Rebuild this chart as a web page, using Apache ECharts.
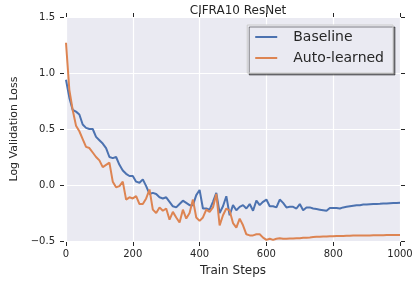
<!DOCTYPE html>
<html>
<head>
<meta charset="utf-8">
<script src="https://cdn.jsdelivr.net/npm/echarts@6/dist/echarts.min.js"></script>
<style>html,body{margin:0;padding:0;background:#fff;}#c{width:418px;height:283px;}</style>
</head>
<body>
<div id="c"></div>
<script>
const title = "CIFRA10 ResNet";
const xLabel = "Train Steps";
const yLabel = "Log Validation Loss";
const seriesNames = ["Baseline", "Auto-learned"];
const xTicks = [0, 200, 400, 600, 800, 1000];
const yTicks = [-0.5, 0.0, 0.5, 1.0, 1.5];
const steps = [0,10,20,30,40,50,60,70,80,90,100,110,120,130,140,150,160,170,180,190,200,
  210,220,230,240,250,260,270,280,290,300,310,320,330,340,350,360,370,380,390,400,
  410,420,430,440,450,460,470,480,490,500,510,520,530,540,550,560,570,580,590,600,
  610,620,630,640,650,660,670,680,690,700,710,720,730,740,750,760,770,780,790,800,
  810,820,830,840,850,860,870,880,890,900,910,920,930,940,950,960,970,980,990,1000];
const baseline = [0.94,0.78,0.67,0.655,0.63,0.54,0.51,0.50,0.50,0.43,0.40,
  0.37,0.33,0.25,0.24,0.25,0.18,0.13,0.10,0.08,0.08,
  0.03,0.02,0.05,-0.01,-0.08,-0.07,-0.08,-0.11,-0.12,-0.11,
  -0.15,-0.19,-0.20,-0.17,-0.14,-0.16,-0.18,-0.18,-0.09,-0.045,
  -0.21,-0.21,-0.22,-0.15,-0.07,-0.25,-0.19,-0.10,-0.27,-0.18,
  -0.225,-0.195,-0.18,-0.21,-0.17,-0.23,-0.14,-0.18,-0.15,-0.13,
  -0.19,-0.19,-0.20,-0.13,-0.16,-0.20,-0.195,-0.195,-0.21,-0.17,
  -0.225,-0.20,-0.20,-0.21,-0.215,-0.22,-0.225,-0.23,-0.205,-0.205,
  -0.205,-0.21,-0.20,-0.195,-0.19,-0.185,-0.18,-0.18,-0.175,-0.175,
  -0.172,-0.17,-0.17,-0.168,-0.165,-0.165,-0.162,-0.16,-0.16,-0.158];
const autoLearned = [1.27,0.85,0.67,0.53,0.48,0.41,0.34,0.33,0.29,0.25,0.22,
  0.16,0.18,0.20,0.03,-0.02,-0.01,0.03,-0.13,-0.11,-0.12,
  -0.10,-0.17,-0.17,-0.12,-0.04,-0.22,-0.25,-0.20,-0.23,-0.21,
  -0.31,-0.24,-0.29,-0.335,-0.22,-0.30,-0.25,-0.13,-0.29,-0.32,
  -0.29,-0.22,-0.24,-0.20,-0.08,-0.36,-0.27,-0.21,-0.23,-0.34,
  -0.38,-0.30,-0.36,-0.44,-0.45,-0.45,-0.44,-0.44,-0.47,-0.49,
  -0.48,-0.49,-0.48,-0.475,-0.48,-0.48,-0.478,-0.477,-0.475,-0.475,
  -0.472,-0.47,-0.468,-0.465,-0.462,-0.462,-0.46,-0.46,-0.458,-0.458,
  -0.456,-0.455,-0.455,-0.454,-0.453,-0.452,-0.452,-0.451,-0.45,-0.45,
  -0.45,-0.449,-0.449,-0.448,-0.448,-0.447,-0.447,-0.446,-0.446,-0.446];

const colors = ["#4c72b0", "#dd8452"];
const font = "DejaVu Sans";
const txt = "#262626";
const pair = (xs, ys) => xs.map((x, i) => [x, ys[i]]);

const chart = echarts.init(document.getElementById('c'), null, {renderer: 'canvas'});
const xCommon = {
  type: 'value', min: xTicks[0], max: xTicks[xTicks.length - 1], interval: 200,
  axisLine: {show: false, onZero: false},
  axisTick: {show: true, length: 4, lineStyle: {color: txt, width: 1}},
};
const yCommon = {
  type: 'value', min: yTicks[0], max: yTicks[yTicks.length - 1], interval: 0.5,
  axisLine: {show: false, onZero: false},
  axisTick: {show: true, length: 4, lineStyle: {color: txt, width: 1}},
};
const lineIcon = 'path://M0,0H22V2H0Z';
chart.setOption({
  animation: false,
  backgroundColor: '#ffffff',
  title: {
    text: title, left: 233, top: 0, textAlign: 'center',
    textStyle: {fontFamily: font, fontSize: 12, fontWeight: 'normal', color: txt}
  },
  grid: {
    left: 66, right: 18, top: 17, bottom: 42,
    show: true, backgroundColor: '#eaeaf2', borderWidth: 0
  },
  legend: {
    right: 25, top: 25, orient: 'vertical',
    data: [
      {name: seriesNames[0], icon: lineIcon, itemStyle: {color: colors[0]}},
      {name: seriesNames[1], icon: lineIcon, itemStyle: {color: colors[1]}}
    ],
    symbolKeepAspect: true,
    itemWidth: 22, itemHeight: 14, itemGap: 7,
    padding: [5, 9, 8, 8],
    backgroundColor: '#eaeaf2', borderColor: '#cccccc', borderWidth: 1,
    shadowColor: 'rgba(0,0,0,0.45)', shadowOffsetX: 2, shadowOffsetY: 2, shadowBlur: 0,
    textStyle: {fontFamily: font, fontSize: 14, color: txt, padding: [0, 0, 0, 11]}
  },
  xAxis: [
    Object.assign({}, xCommon, {
      position: 'bottom', offset: 1,
      name: xLabel, nameLocation: 'middle', nameGap: 23,
      nameTextStyle: {fontFamily: font, fontSize: 12, color: txt},
      axisLabel: {fontFamily: font, fontSize: 10, color: txt, margin: 7, formatter: v => String(v)},
      splitLine: {show: true, lineStyle: {color: '#ffffff', width: 1.2}}
    }),
    Object.assign({}, xCommon, {
      position: 'top', offset: 0,
      axisLabel: {show: false}, splitLine: {show: false}
    })
  ],
  yAxis: [
    Object.assign({}, yCommon, {
      position: 'left', offset: 2,
      name: yLabel, nameLocation: 'middle', nameGap: 40,
      nameTextStyle: {fontFamily: font, fontSize: 11, color: txt},
      axisLabel: {fontFamily: font, fontSize: 10, color: txt, margin: 9,
        formatter: v => (v < 0 ? '\u2212' + Math.abs(v).toFixed(1) : v.toFixed(1))},
      splitLine: {show: true, lineStyle: {color: '#ffffff', width: 1.2}}
    }),
    Object.assign({}, yCommon, {
      position: 'right', offset: 1,
      axisLabel: {show: false}, splitLine: {show: false}
    })
  ],
  series: [
    {name: seriesNames[0], type: 'line', data: pair(steps, baseline), xAxisIndex: 0, yAxisIndex: 0,
     symbol: 'none', lineStyle: {color: colors[0], width: 2}, itemStyle: {color: colors[0]}},
    {name: seriesNames[1], type: 'line', data: pair(steps, autoLearned), xAxisIndex: 0, yAxisIndex: 0,
     symbol: 'none', lineStyle: {color: colors[1], width: 2}, itemStyle: {color: colors[1]}}
  ]
});
</script>
</body>
</html>
